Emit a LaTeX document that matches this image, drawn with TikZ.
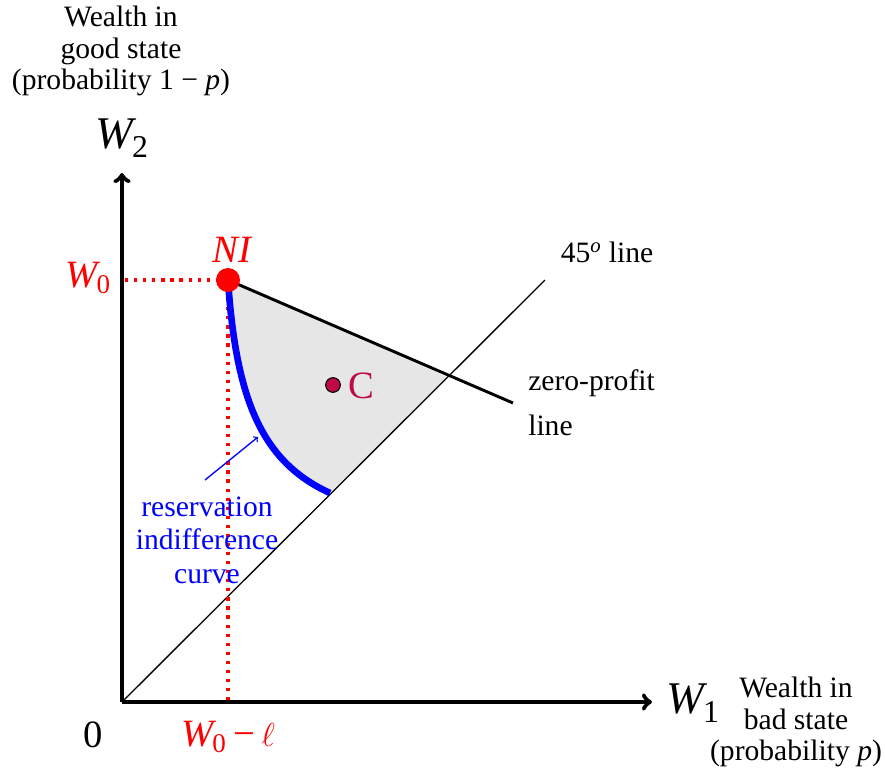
\documentclass[tikz,border=0pt]{standalone}
\usepackage{fontspec}
\setmainfont{Liberation Serif}
\definecolor{crim}{RGB}{190,10,70}
\definecolor{shadegray}{RGB}{230,230,230}
\newcommand{\Wsub}[1]{\textit{W}\kern-0.1em\textsubscript{#1}}
\begin{document}
\begin{tikzpicture}[x=0.75pt,y=-0.75pt,
  lbl/.style={font=\fontsize{22.2}{23.8}\selectfont, align=center, inner sep=0pt},
  big/.style={font=\fontsize{34}{38}\selectfont, inner sep=0pt},
  mid/.style={font=\fontsize{29}{32}\selectfont, inner sep=0pt},
  axis/.style={line width=3.4pt, ->, >=to},
  redDot/.style={red, line width=2.4pt, dash pattern=on 2.4pt off 4.4pt}]
\useasboundingbox (0,0) rectangle (885,769);
% coordinates
\coordinate (O) at (122,702);
\coordinate (Ytop) at (122,173);
\coordinate (Xend) at (652,702);
\coordinate (NI) at (228,280);
\coordinate (Wy) at (124,280);
\coordinate (Wx) at (228,702);
\coordinate (X) at (447,377);
\coordinate (ZP) at (513,403);
\coordinate (L45) at (545,280);
\coordinate (B) at (330,493);
% shaded region
\fill[shadegray] (NI) -- (X) -- (B) .. controls (262,462) and (236,400) .. (NI) -- cycle;
% 45 line
\draw[line width=1pt] (O) -- (L45);
% zero profit line
\draw[line width=2.2pt] (NI) -- (ZP);
% dotted
\draw[redDot] (NI) -- (Wy);
\draw[redDot] (NI) -- (Wx);
% axes
\draw[axis] (O) -- (Ytop);
\draw[axis] (O) -- (Xend);
% curve
\draw[blue, line width=5pt] (NI) .. controls (236,400) and (262,462) .. (B);
% points
\fill[red] (NI) circle (12);
\node[mid, red] (nil) at (232,250) {\itshape NI};
\node[circle, draw=black, line width=0.8pt, fill=crim, minimum size=11pt, inner sep=0pt] (C) at (333,385) {};
\node[mid, crim] (Cl) at (361,386) {C};
% labels
\node[lbl] (tl) at (121,51) {Wealth in\\good state\\(probability 1 − \textit{p})};
\node[big] (w2) at (122,138) {\Wsub{2}};
\node[big] (w1) at (693,703) {\Wsub{1}};
\node[lbl] (br) at (796,722) {Wealth in\\bad state\\(probability \textit{p})};
\node[mid] (zero) at (93,735) {0};
\node[mid, red] (w0) at (88,278) {\Wsub{0}};
\node[mid, red] (w0l) at (228,737) {\Wsub{0}\,−\,$\ell$};
\node[lbl] (l45) at (607,252) {45\textsuperscript{\textit{o}} line};
\node[lbl, anchor=west] (zp1) at (528,383) {zero-profit};
\node[lbl, anchor=west] (zp2) at (528,425) {line};
\node[lbl, blue, font=\fontsize{22.2}{25}\selectfont] (res) at (207,540) {reservation\\indifference\\curve};
\coordinate (at) at (258,437);
\draw[blue, line width=1pt, ->, >=to] (205,480) -- (at);
\end{tikzpicture}
\end{document}
